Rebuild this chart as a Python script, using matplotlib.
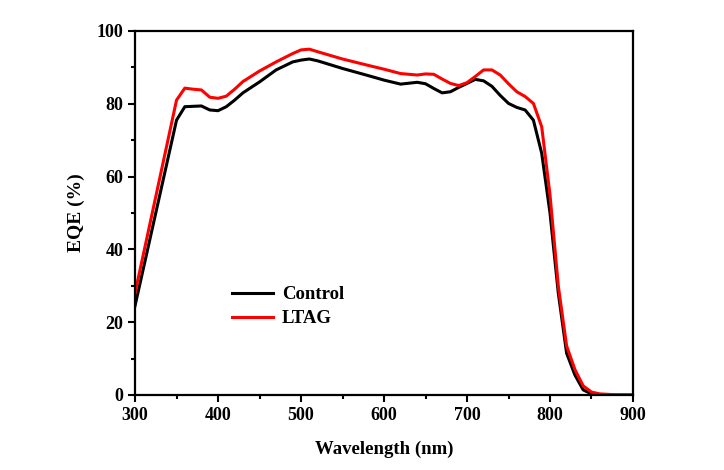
import matplotlib
matplotlib.use("Agg")
import matplotlib.pyplot as plt
from matplotlib.ticker import MultipleLocator

wl = [300, 350, 360, 370, 380, 390, 400, 410, 420, 430, 450, 470, 490, 500, 510, 520,
      550, 580, 600, 620, 640, 650, 660, 670, 680, 690, 700, 710, 720, 730, 740, 750,
      760, 770, 780, 790, 800, 810, 820, 830, 840, 850, 860, 880, 900]
control = [24.5, 75.5, 79.2, 79.3, 79.4, 78.3, 78.1, 79.2, 81.0, 83.0, 86.0, 89.3, 91.5, 92.0, 92.3, 91.8,
           89.7, 87.8, 86.5, 85.4, 85.9, 85.5, 84.2, 83.0, 83.3, 84.5, 85.6, 86.7, 86.3, 84.8, 82.3, 80.1,
           79.0, 78.3, 75.5, 66.4, 50.0, 28.0, 11.5, 5.5, 1.4, 0.3, 0.1, 0.0, 0.0]
ltag = [28.0, 81.0, 84.3, 84.0, 83.8, 81.8, 81.5, 82.1, 84.0, 86.1, 89.0, 91.5, 93.8, 94.8, 95.0, 94.3,
        92.3, 90.6, 89.5, 88.3, 87.9, 88.2, 88.1, 86.8, 85.6, 85.0, 85.8, 87.5, 89.3, 89.3, 87.9, 85.5,
        83.3, 82.0, 80.1, 73.7, 55.0, 30.0, 13.5, 7.0, 2.5, 0.8, 0.3, 0.05, 0.0]

series_labels = ["Control", "LTAG"]
xlabel = "Wavelength (nm)"
ylabel = "EQE (%)"

plt.rcParams['font.family'] = ['Liberation Serif', 'DejaVu Serif']
plt.rcParams['font.weight'] = 'bold'

fig = plt.figure(figsize=(7.24, 4.70), dpi=100)
ax = fig.add_axes([0.1865, 0.1596, 0.6878, 0.7745])

ax.plot(wl, control, color='black', lw=2.2, label=series_labels[0])
ax.plot(wl, ltag, color='#ff0000', lw=2.2, label=series_labels[1])

ax.set_xlim(300, 900)
ax.set_ylim(0, 100)
ax.xaxis.set_major_locator(MultipleLocator(100))
ax.xaxis.set_minor_locator(MultipleLocator(50))
ax.yaxis.set_major_locator(MultipleLocator(20))
ax.yaxis.set_minor_locator(MultipleLocator(10))
ax.tick_params(which='both', direction='out', width=1.5, top=False, right=False, labelsize=13)
ax.tick_params(which='major', length=5)
ax.tick_params(which='minor', length=3)
for lab in ax.get_xticklabels() + ax.get_yticklabels():
    lab.set_fontweight('bold')
for s in ax.spines.values():
    s.set_linewidth(1.6)

ax.set_xlabel(xlabel, fontsize=13.5, fontweight='bold', labelpad=12)
ax.set_ylabel(ylabel, fontsize=14, fontweight='bold', labelpad=8)

leg = ax.legend(loc='lower left', bbox_to_anchor=(0.16, 0.14), frameon=False,
                handlelength=2.2, handletextpad=0.5, labelspacing=0.35,
                prop={'weight': 'bold', 'size': 13.5})

fig.savefig("out.png", dpi=100, facecolor='white')
